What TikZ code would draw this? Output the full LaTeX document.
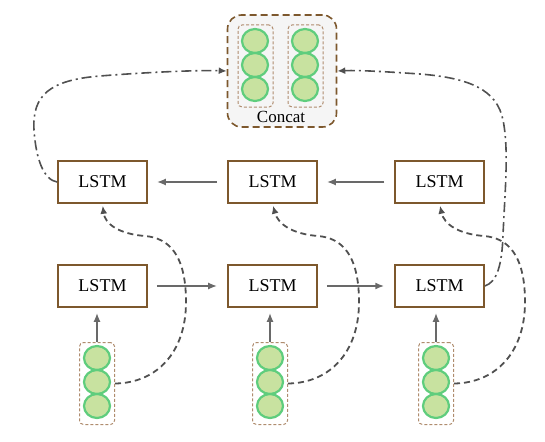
\documentclass[tikz,border=0pt]{standalone}
\usepackage{fontspec}
\setmainfont{Liberation Serif}
\usetikzlibrary{shapes.geometric,arrows.meta}
\definecolor{lstmbrown}{RGB}{125,88,45}
\definecolor{cellgreen}{RGB}{95,205,125}
\definecolor{cellfill}{RGB}{200,226,160}
\definecolor{tan}{RGB}{175,140,110}
\definecolor{lgray}{RGB}{245,245,245}
\definecolor{linegray}{RGB}{80,80,80}
\definecolor{arrgray}{RGB}{105,105,105}
\tikzset{
  lstmbox/.style={draw=lstmbrown,line width=1.6pt,fill=white,minimum width=89pt,minimum height=42pt,inner sep=0pt,font=\fontsize{18}{20}\selectfont},
  cell/.style={ellipse,draw=cellgreen,fill=cellfill,line width=2.2pt,minimum width=26pt,minimum height=24pt,inner sep=0pt},
  colbox/.style={draw=tan,dashed,dash pattern=on 3pt off 2pt,line width=1pt,rounded corners=4pt,minimum width=35pt,minimum height=82pt,inner sep=0pt},
  arr/.style={draw=arrgray,line width=1.8pt,-{Latex[length=9pt,width=7pt]}},
  dcurve/.style={draw=linegray,line width=1.8pt,dash pattern=on 6pt off 4pt,-{Latex[length=8pt,width=7pt]}},
  ddcurve/.style={draw=linegray,line width=1.6pt,dash pattern=on 10pt off 4pt on 2pt off 4pt,-{Latex[length=8pt,width=7pt]}}
}
\begin{document}
\begin{tikzpicture}[x=1pt,y=-1pt]
\useasboundingbox (0,0) rectangle (545,441);
% Concat
\node[draw=lstmbrown,fill=lgray,dashed,dash pattern=on 7pt off 4pt,line width=1.6pt,rounded corners=14pt,minimum width=109pt,minimum height=112pt,inner sep=0pt] (cc) at (282,71) {};
\node[colbox] (cl) at (255.5,66) {};
\node[colbox] (cr) at (305.5,66) {};
\foreach \y/\k in {41/1,65/2,89/3}{
  \node[cell] (cl\k) at (255,\y) {};
  \node[cell] (cr\k) at (305,\y) {};
}
\node[font=\fontsize{17}{19}\selectfont,inner sep=0pt] (ctext) at (281,117) {Concat};
% LSTM boxes
\node[lstmbox] (t1) at (102.5,182) {LSTM};
\node[lstmbox] (t2) at (272.5,182) {LSTM};
\node[lstmbox] (t3) at (439.6,182) {LSTM};
\node[lstmbox] (b1) at (102.5,286) {LSTM};
\node[lstmbox] (b2) at (272.5,286) {LSTM};
\node[lstmbox] (b3) at (439.6,286) {LSTM};
% inputs
\foreach \x/\n in {97/1,270/2,436/3}{
  \node[colbox] (in\n) at (\x,383.5) {};
  \node[cell] (in\n c1) at (\x,358) {};
  \node[cell] (in\n c2) at (\x,382) {};
  \node[cell] (in\n c3) at (\x,406) {};
  \draw[arr] (in\n.north) -- ([yshift=-5pt]in\n.north |- b\n.south);
  \draw[dcurve,shorten >=2pt] (in\n.east) .. controls ({\x+60},383) and ({\x+89},352) .. ({\x+89},302)
     .. controls ({\x+89},255) and ({\x+72},238) .. ({\x+48},236)
     .. controls ({\x+22},234) and ({\x+8},224) .. (t\n.south);
}
% horizontal arrows
\draw[arr] ([xshift=-10pt]t2.west) -- ([xshift=9pt]t1.east);
\draw[arr] ([xshift=-10pt]t3.west) -- ([xshift=9pt]t2.east);
\draw[arr] ([xshift=9pt]b1.east) -- ([xshift=-10pt]b2.west);
\draw[arr] ([xshift=9pt]b2.east) -- ([xshift=-10pt]b3.west);
% dash-dot connectors
\draw[ddcurve] (t1.west) .. controls (44,180) and (36,160) .. (34,130)
   .. controls (32,95) and (50,80) .. (100,76)
   .. controls (150,72) and (200,70) .. (cc.west);
\draw[ddcurve] (b3.east) .. controls (497,282) and (502,265) .. (503,235)
   .. controls (505,190) and (509,150) .. (503,120)
   .. controls (497,90) and (470,78) .. (420,74)
   .. controls (390,72) and (360,70) .. (cc.east);
\end{tikzpicture}
\end{document}
